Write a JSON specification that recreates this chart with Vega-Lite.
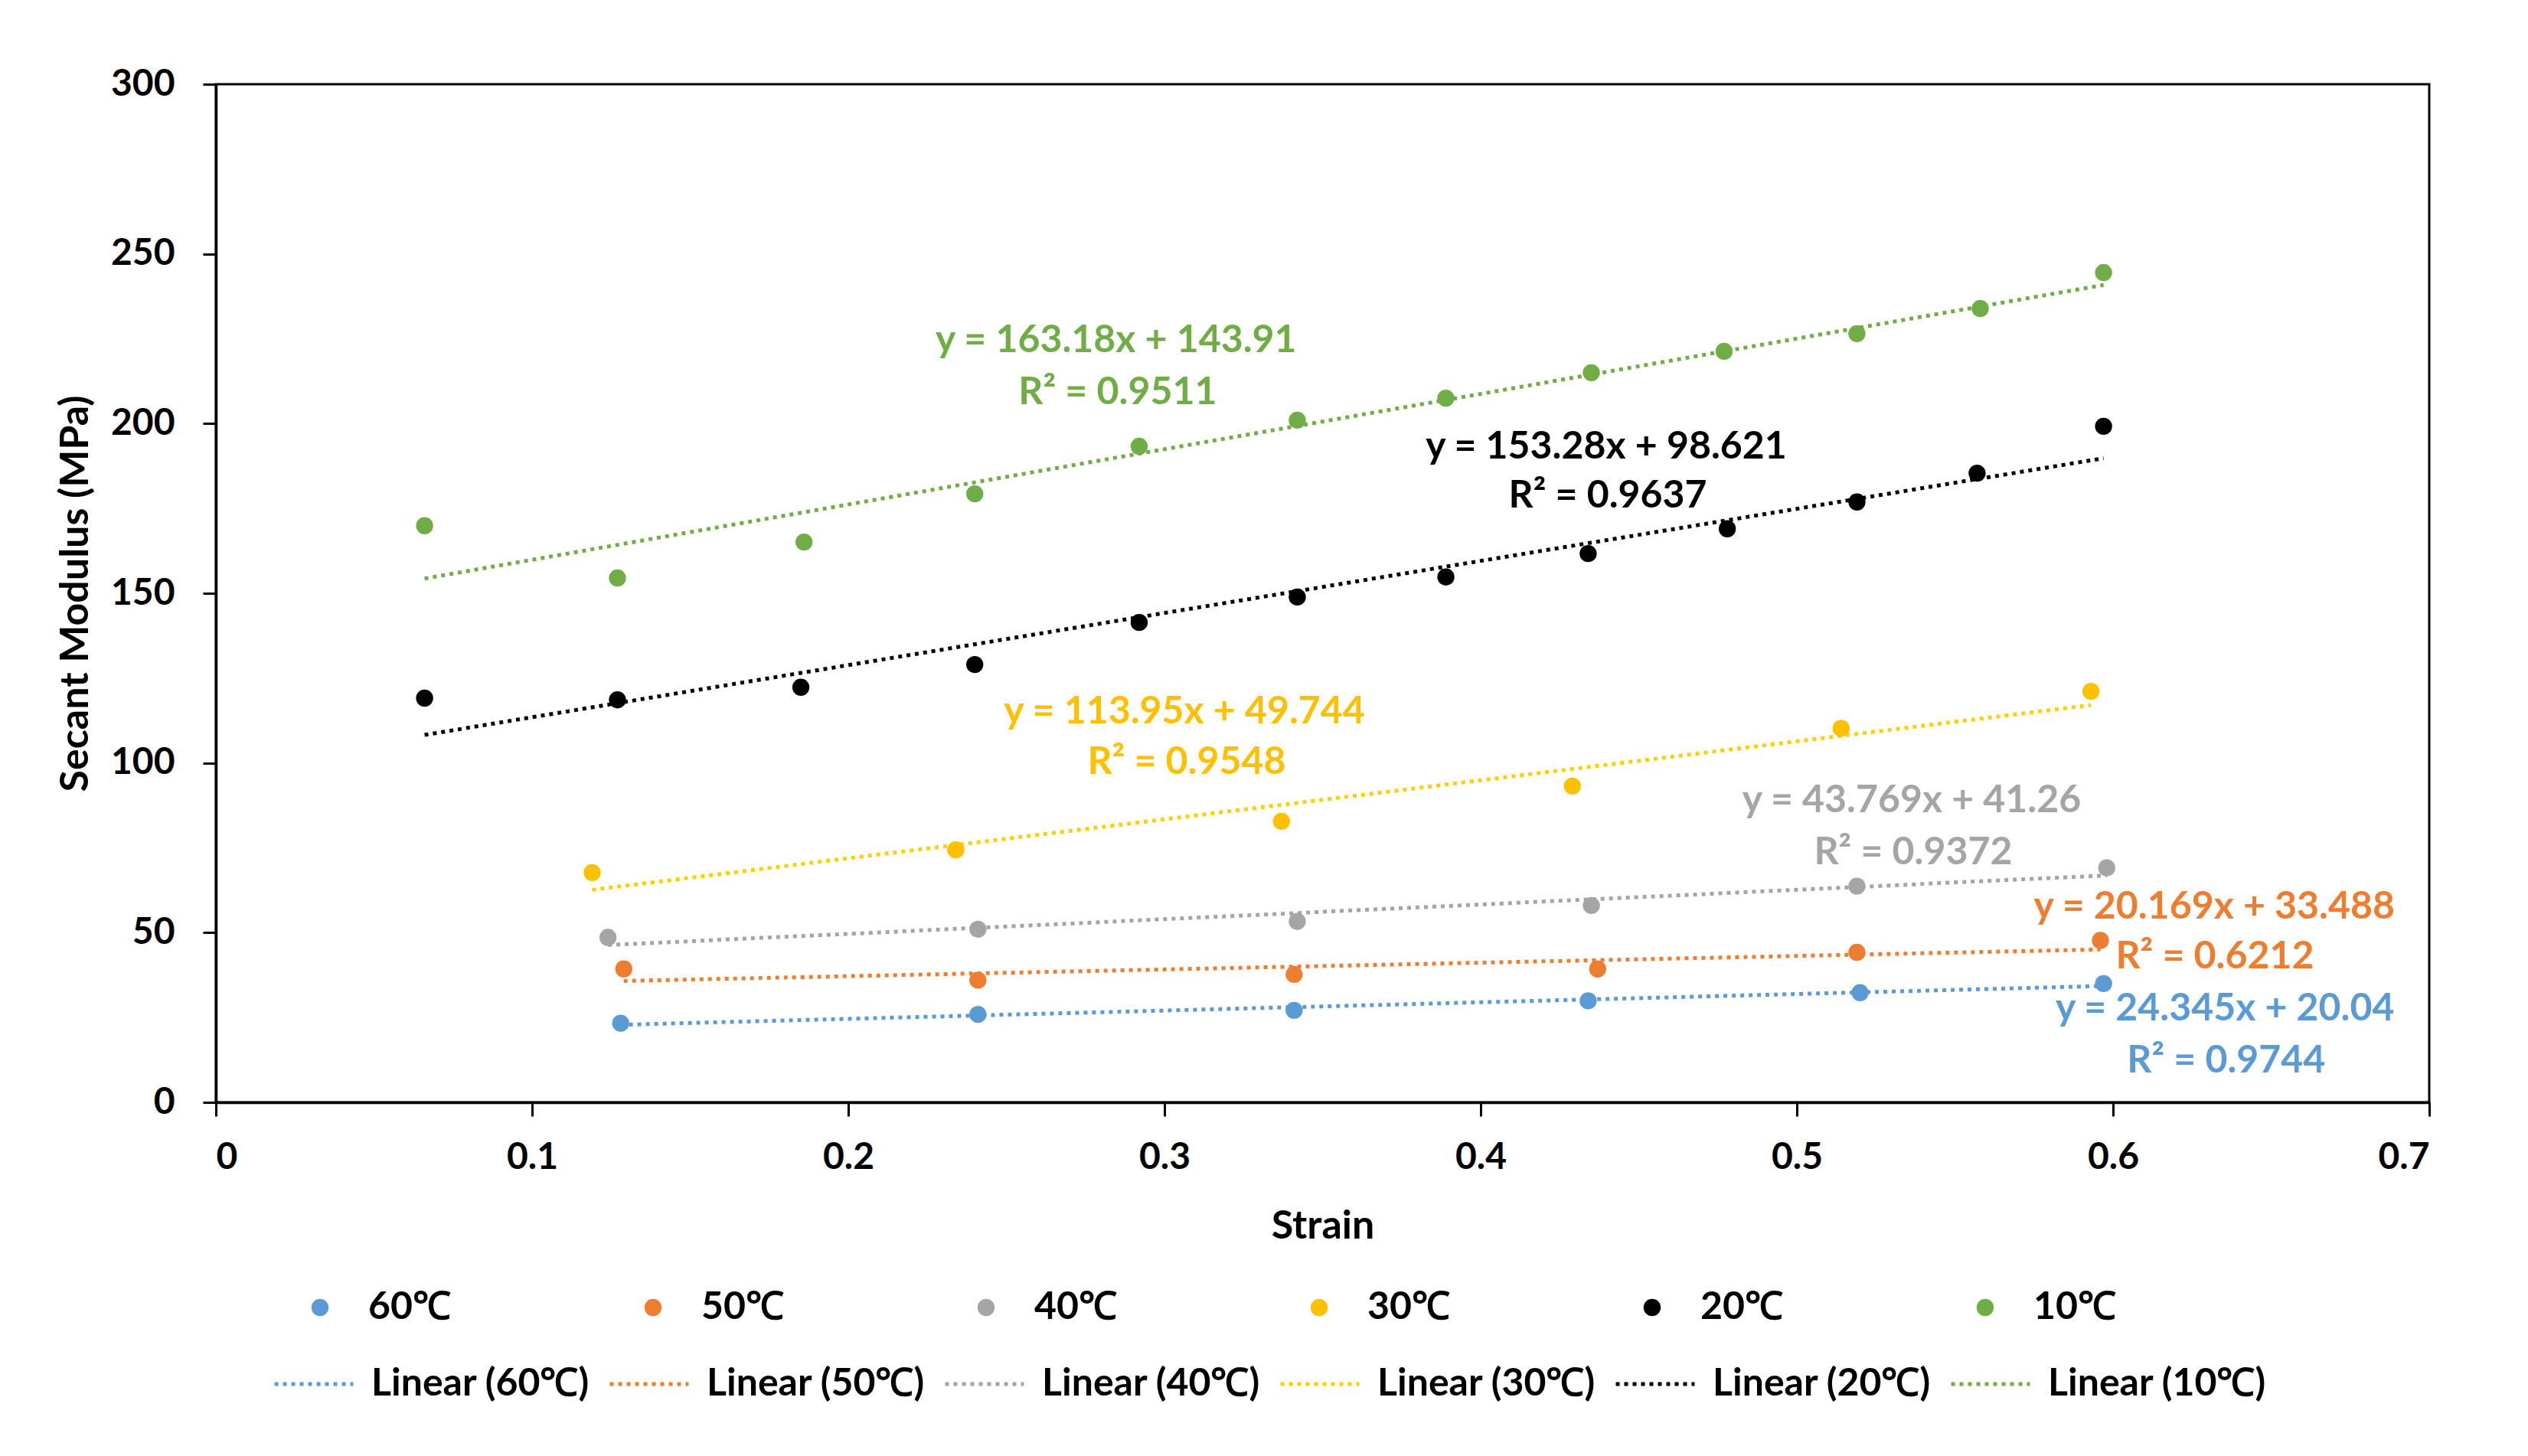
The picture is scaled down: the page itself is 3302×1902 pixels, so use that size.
{
  "$schema": "https://vega.github.io/schema/vega-lite/v6.json",
  "width": 2891,
  "height": 1330,
  "autosize": {"type": "none"},
  "padding": {"left": 282, "top": 110, "right": 129, "bottom": 462},
  "background": "white",
  "config": {
    "font": "Lato",
    "view": {"stroke": "black", "strokeWidth": 3},
    "axis": {
      "domainColor": "black", "domainWidth": 3.5,
      "tickColor": "black", "tickWidth": 3,
      "grid": false,
      "labelFont": "Lato", "labelFontWeight": "bold", "labelFontSize": 48, "labelColor": "black",
      "titleFont": "Lato", "titleFontWeight": "bold", "titleFontSize": 52, "titleColor": "black"
    }
  },
  "datasets": {
    "points": [
      {"temp": "60℃", "trend": "Linear (60℃)", "strain": 0.128, "modulus": 23.3},
      {"temp": "60℃", "trend": "Linear (60℃)", "strain": 0.241, "modulus": 25.9},
      {"temp": "60℃", "trend": "Linear (60℃)", "strain": 0.341, "modulus": 27.1},
      {"temp": "60℃", "trend": "Linear (60℃)", "strain": 0.434, "modulus": 29.9},
      {"temp": "60℃", "trend": "Linear (60℃)", "strain": 0.520, "modulus": 32.3},
      {"temp": "60℃", "trend": "Linear (60℃)", "strain": 0.597, "modulus": 35.0},
      {"temp": "50℃", "trend": "Linear (50℃)", "strain": 0.129, "modulus": 39.3},
      {"temp": "50℃", "trend": "Linear (50℃)", "strain": 0.241, "modulus": 36.0},
      {"temp": "50℃", "trend": "Linear (50℃)", "strain": 0.341, "modulus": 37.7},
      {"temp": "50℃", "trend": "Linear (50℃)", "strain": 0.437, "modulus": 39.3},
      {"temp": "50℃", "trend": "Linear (50℃)", "strain": 0.519, "modulus": 44.2},
      {"temp": "50℃", "trend": "Linear (50℃)", "strain": 0.596, "modulus": 47.7},
      {"temp": "40℃", "trend": "Linear (40℃)", "strain": 0.124, "modulus": 48.6},
      {"temp": "40℃", "trend": "Linear (40℃)", "strain": 0.241, "modulus": 51.0},
      {"temp": "40℃", "trend": "Linear (40℃)", "strain": 0.342, "modulus": 53.3},
      {"temp": "40℃", "trend": "Linear (40℃)", "strain": 0.435, "modulus": 58.0},
      {"temp": "40℃", "trend": "Linear (40℃)", "strain": 0.519, "modulus": 63.7},
      {"temp": "40℃", "trend": "Linear (40℃)", "strain": 0.598, "modulus": 69.1},
      {"temp": "30℃", "trend": "Linear (30℃)", "strain": 0.119, "modulus": 67.7},
      {"temp": "30℃", "trend": "Linear (30℃)", "strain": 0.234, "modulus": 74.4},
      {"temp": "30℃", "trend": "Linear (30℃)", "strain": 0.337, "modulus": 82.8},
      {"temp": "30℃", "trend": "Linear (30℃)", "strain": 0.429, "modulus": 93.2},
      {"temp": "30℃", "trend": "Linear (30℃)", "strain": 0.514, "modulus": 110.2},
      {"temp": "30℃", "trend": "Linear (30℃)", "strain": 0.593, "modulus": 121.1},
      {"temp": "20℃", "trend": "Linear (20℃)", "strain": 0.066, "modulus": 119.1},
      {"temp": "20℃", "trend": "Linear (20℃)", "strain": 0.127, "modulus": 118.6},
      {"temp": "20℃", "trend": "Linear (20℃)", "strain": 0.185, "modulus": 122.3},
      {"temp": "20℃", "trend": "Linear (20℃)", "strain": 0.240, "modulus": 129.0},
      {"temp": "20℃", "trend": "Linear (20℃)", "strain": 0.292, "modulus": 141.4},
      {"temp": "20℃", "trend": "Linear (20℃)", "strain": 0.342, "modulus": 148.9},
      {"temp": "20℃", "trend": "Linear (20℃)", "strain": 0.389, "modulus": 154.8},
      {"temp": "20℃", "trend": "Linear (20℃)", "strain": 0.434, "modulus": 161.7},
      {"temp": "20℃", "trend": "Linear (20℃)", "strain": 0.478, "modulus": 169.0},
      {"temp": "20℃", "trend": "Linear (20℃)", "strain": 0.519, "modulus": 176.9},
      {"temp": "20℃", "trend": "Linear (20℃)", "strain": 0.557, "modulus": 185.4},
      {"temp": "20℃", "trend": "Linear (20℃)", "strain": 0.597, "modulus": 199.2},
      {"temp": "10℃", "trend": "Linear (10℃)", "strain": 0.066, "modulus": 169.9},
      {"temp": "10℃", "trend": "Linear (10℃)", "strain": 0.127, "modulus": 154.5},
      {"temp": "10℃", "trend": "Linear (10℃)", "strain": 0.186, "modulus": 165.1},
      {"temp": "10℃", "trend": "Linear (10℃)", "strain": 0.240, "modulus": 179.3},
      {"temp": "10℃", "trend": "Linear (10℃)", "strain": 0.292, "modulus": 193.3},
      {"temp": "10℃", "trend": "Linear (10℃)", "strain": 0.342, "modulus": 201.0},
      {"temp": "10℃", "trend": "Linear (10℃)", "strain": 0.389, "modulus": 207.5},
      {"temp": "10℃", "trend": "Linear (10℃)", "strain": 0.435, "modulus": 215.0},
      {"temp": "10℃", "trend": "Linear (10℃)", "strain": 0.477, "modulus": 221.3},
      {"temp": "10℃", "trend": "Linear (10℃)", "strain": 0.519, "modulus": 226.5},
      {"temp": "10℃", "trend": "Linear (10℃)", "strain": 0.558, "modulus": 233.9},
      {"temp": "10℃", "trend": "Linear (10℃)", "strain": 0.597, "modulus": 244.5}
    ],
    "labels": [
      {"temp": "10℃", "strain": 0.2847, "modulus": 224.4, "label": "y = 163.18x + 143.91"},
      {"temp": "10℃", "strain": 0.2852, "modulus": 209.1, "label": "R² = 0.9511"},
      {"temp": "20℃", "strain": 0.4397, "modulus": 193.0, "label": "y = 153.28x + 98.621"},
      {"temp": "20℃", "strain": 0.4402, "modulus": 178.7, "label": "R² = 0.9637"},
      {"temp": "30℃", "strain": 0.3063, "modulus": 115.0, "label": "y = 113.95x + 49.744"},
      {"temp": "30℃", "strain": 0.3070, "modulus": 100.2, "label": "R² = 0.9548"},
      {"temp": "40℃", "strain": 0.5363, "modulus": 88.9, "label": "y = 43.769x + 41.26"},
      {"temp": "40℃", "strain": 0.5368, "modulus": 73.5, "label": "R² = 0.9372"},
      {"temp": "50℃", "strain": 0.6320, "modulus": 57.5, "label": "y = 20.169x + 33.488"},
      {"temp": "50℃", "strain": 0.6322, "modulus": 42.9, "label": "R² = 0.6212"},
      {"temp": "60℃", "strain": 0.6354, "modulus": 27.5, "label": "y = 24.345x + 20.04"},
      {"temp": "60℃", "strain": 0.6358, "modulus": 12.2, "label": "R² = 0.9744"}
    ]
  },
  "encoding": {
    "x": {
      "field": "strain", "type": "quantitative",
      "scale": {"domain": [0, 0.7], "nice": false, "zero": false},
      "axis": {"title": "Strain", "values": [0, 0.1, 0.2, 0.3, 0.4, 0.5, 0.6, 0.7], "format": ".1~f", "tickSize": 18, "labelPadding": 30, "titlePadding": 40}
    },
    "y": {
      "field": "modulus", "type": "quantitative",
      "scale": {"domain": [0, 300], "nice": false},
      "axis": {"title": "Secant Modulus (MPa)", "values": [0, 50, 100, 150, 200, 250, 300], "tickSize": 17, "labelPadding": 37, "titlePadding": 19}
    }
  },
  "layer": [
    {
      "data": {"name": "points"},
      "transform": [{"regression": "modulus", "on": "strain", "groupby": ["temp", "trend"]}],
      "mark": {"type": "line", "strokeDash": [5, 6], "strokeWidth": 5},
      "encoding": {
        "stroke": {
          "field": "trend", "type": "nominal",
          "scale": {
            "domain": ["Linear (60℃)", "Linear (50℃)", "Linear (40℃)", "Linear (30℃)", "Linear (20℃)", "Linear (10℃)"],
            "range": ["#5B9BD5", "#ED7D31", "#A5A5A5", "#FFD000", "#000000", "#70AD47"]
          },
          "legend": {
            "orient": "none", "legendX": 74, "legendY": 1644, "direction": "horizontal", "columns": 6,
            "title": null, "padding": 0, "symbolType": "stroke", "symbolSize": 10600, "symbolStrokeWidth": 5,
            "symbolDash": [5, 6], "labelOffset": 21, "columnPadding": 15,
            "labelFont": "Lato", "labelFontWeight": "bold", "labelFontSize": 50, "labelColor": "black", "labelLimit": 0
          }
        }
      }
    },
    {
      "data": {"name": "points"},
      "mark": {"type": "point", "filled": true, "size": 500, "opacity": 1},
      "encoding": {
        "color": {
          "field": "temp", "type": "nominal",
          "scale": {
            "domain": ["60℃", "50℃", "40℃", "30℃", "20℃", "10℃"],
            "range": ["#5B9BD5", "#ED7D31", "#A5A5A5", "#FFC000", "#000000", "#70AD47"]
          },
          "legend": {
            "orient": "none", "legendX": 111, "legendY": 1573, "direction": "horizontal", "columns": 6,
            "title": null, "padding": 0, "symbolType": "circle", "symbolSize": 500, "symbolStrokeWidth": 0,
            "symbolOpacity": 1, "labelOffset": 38, "columnPadding": 238,
            "labelFont": "Lato", "labelFontWeight": "bold", "labelFontSize": 50, "labelColor": "black", "labelLimit": 0
          }
        }
      }
    },
    {
      "data": {"name": "labels"},
      "mark": {"type": "text", "font": "Lato", "fontWeight": "bold", "fontSize": 50, "align": "center", "baseline": "middle"},
      "encoding": {
        "text": {"field": "label", "type": "nominal"},
        "color": {"field": "temp", "type": "nominal"}
      }
    }
  ]
}
